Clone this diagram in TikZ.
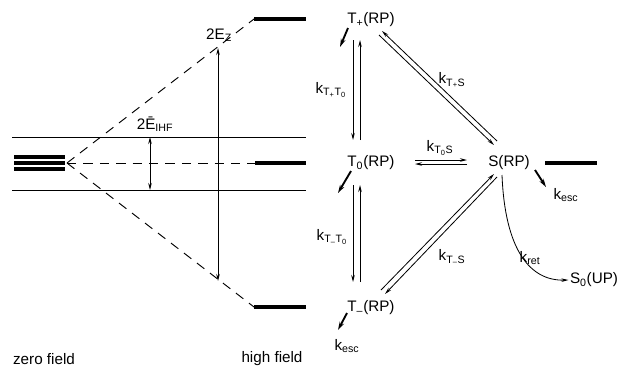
\documentclass[tikz,border=0pt]{standalone}
\usepackage{fontspec}
\setmainfont{Liberation Sans}
\usetikzlibrary{arrows.meta}
\newcommand{\subtx}[1]{\textsubscript{#1}}

\begin{document}
\begin{tikzpicture}[
  x=0.3mm, y=-0.3mm,
  >={Stealth[length=6pt,width=3pt]},
  line width=0.7pt,
  font=\fontsize{13}{15}\selectfont,
  level/.style={line width=3.4pt},
  corr/.style={dash pattern=on 8pt off 6pt, line width=0.8pt},
  state/.style={inner sep=1pt},
  rate/.style={->, line width=0.7pt},
  esc/.style={-{Stealth[length=7pt,width=4pt]}, line width=1.6pt},
  lbl/.style={inner sep=1pt}
]
\useasboundingbox (0,0) rectangle (620,378);

% zero field and high field levels
\coordinate (zf) at (67,163);
\coordinate (hp) at (254,19);
\coordinate (h0) at (255,163);
\coordinate (hm) at (254,307);
\draw[level] (14,157) -- (65,157) (14,163) -- (65,163) (14,169) -- (65,169);
\draw[level] (hp) -- ++(52,0);
\draw[level] (h0) -- ++(51,0);
\draw[level] (hm) -- ++(52,0);
\draw (12,137) -- (306,137);
\draw (12,190) -- (306,190);
\draw[corr] (zf) -- (hp);
\draw[corr] (zf) -- (h0);
\draw[corr] (zf) -- (hm);

% splittings
\coordinate (ezt) at (218,48);
\coordinate (ezb) at (218,281);
\draw[<->] (ezt) -- (ezb);
\node[lbl] (ez) at (219,35) {2E\subtx{Z}};
\coordinate (eht) at (150,137);
\coordinate (ehb) at (150,190);
\draw[<->] (eht) -- (ehb);
\node[lbl] (eh) at (155,124) {2\={E}\subtx{IHF}};

\node (zero) at (44,359) {zero field};
\node (high) at (272,359) {high field};

% radical pair states
\node[state] (tp) at (371,20) {T\subtx{+}(RP)};
\node[state] (t0) at (371,163) {T\subtx{0}(RP)};
\node[state] (tm) at (371,308) {T\subtx{--}(RP)};
\node[state] (s) at (509,163) {S(RP)};
\node[state] (s0) at (594,280) {S\subtx{0}(UP)};
\draw[level] ([shift={(14,0)}]s.east) -- ++(52,0);

% escape
\coordinate (escp) at (340,47);
\coordinate (escz) at (338,193);
\coordinate (escmt) at (338,330);
\coordinate (escst) at (546,187);
\draw[esc] ([shift={(-23,8)}]tp.center) -- (escp);
\draw[esc] ([shift={(-20,8)}]t0.center) -- (escz);
\draw[esc] ([shift={(-24,5)}]tm.center) -- (escmt);
\draw[esc] ([shift={(26,7)}]s.center) -- (escst);
\node[lbl] (escm) at (347,346) {k\subtx{esc}};
\node[lbl] (escs) at (566,195) {k\subtx{esc}};

% T+ <-> T0
\draw[rate] ([shift={(-18,20)}]tp.center) -- ([shift={(-18,-23)}]t0.center);
\draw[rate] ([shift={(-11,-23)}]t0.center) -- ([shift={(-11,20)}]tp.center);
\node[lbl] (kpz) at (331,90) {k\subtx{T\subtx{+}T\subtx{0}}};
% T0 <-> T-
\draw[rate] ([shift={(-18,22)}]t0.center) -- ([shift={(-18,-26)}]tm.center);
\draw[rate] ([shift={(-11,-26)}]tm.center) -- ([shift={(-11,22)}]t0.center);
\node[lbl] (kmz) at (332,237) {k\subtx{T\subtx{--}T\subtx{0}}};

% T+ <-> S
\draw[rate] ([shift={(8,15)}]tp.center) -- ([shift={(-15,-18)}]s.center);
\draw[rate] ([shift={(-12,-22)}]s.center) -- ([shift={(11,11)}]tp.center);
\node[lbl] (kps) at (452,80) {k\subtx{T\subtx{+}S}};
% T0 <-> S
\draw[rate] ([shift={(44,-3)}]t0.center) -- ([shift={(-42,-3)}]s.center);
\draw[rate] ([shift={(-42,1)}]s.center) -- ([shift={(44,1)}]t0.center);
\node[lbl] (kzs) at (440,148) {k\subtx{T\subtx{0}S}};
% T- <-> S
\draw[rate] ([shift={(10,-18)}]tm.center) -- ([shift={(-15,11)}]s.center);
\draw[rate] ([shift={(-12,14)}]s.center) -- ([shift={(14,-14)}]tm.center);
\node[lbl] (kms) at (452,257) {k\subtx{T\subtx{--}S}};

% recombination
\draw[rate] ([shift={(-7,12)}]s.center) .. controls (505,250) and (530,281) .. (s0.west);
\node[lbl] (kret) at (530,258) {k\subtx{ret}};
\end{tikzpicture}
\end{document}
